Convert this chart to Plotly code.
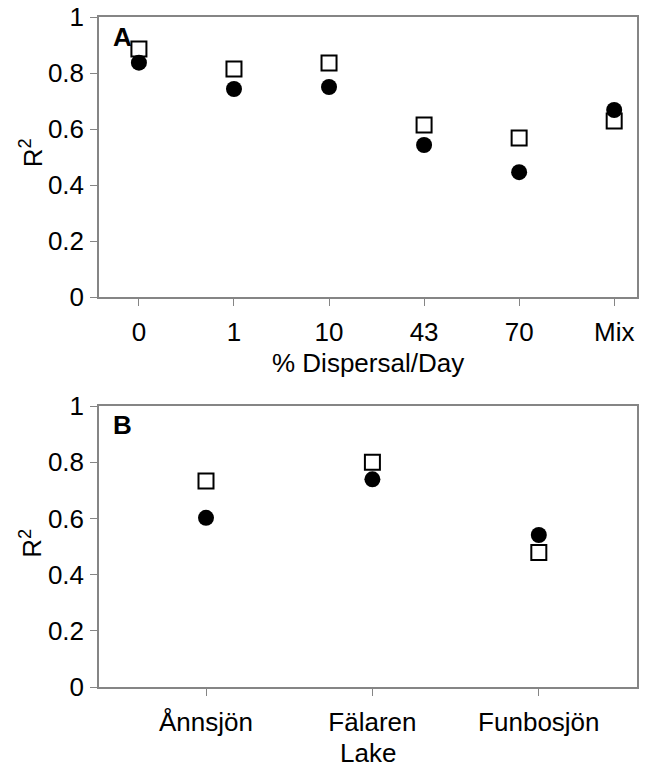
import plotly.graph_objects as go
from plotly.subplots import make_subplots

dispersal = ["0", "1", "10", "43", "70", "Mix"]
a_open = [0.886, 0.814, 0.836, 0.614, 0.568, 0.629]
a_filled = [0.837, 0.743, 0.750, 0.543, 0.446, 0.668]

lakes = ["Ånnsjön", "Fälaren", "Funbosjön"]
b_open = [0.733, 0.800, 0.479]
b_filled = [0.602, 0.739, 0.541]

yticks = [0, 0.2, 0.4, 0.6, 0.8, 1]
ytick_text = ["0", "0.2", "0.4", "0.6", "0.8", "1"]

FONT = "Liberation Sans, Arial, sans-serif"
FS = 26

fig = make_subplots(rows=2, cols=1, vertical_spacing=0.1)

def add_panel(cats, filled, opened, row):
    fig.add_trace(go.Scatter(x=cats, y=opened, mode="markers",
                             marker=dict(symbol="square-open", size=15, color="black",
                                         line=dict(width=2)),
                             showlegend=False), row=row, col=1)
    fig.add_trace(go.Scatter(x=cats, y=filled, mode="markers",
                             marker=dict(symbol="circle", size=16, color="black",
                                         line=dict(width=0)),
                             showlegend=False), row=row, col=1)

add_panel(dispersal, a_filled, a_open, 1)
add_panel(lakes, b_filled, b_open, 2)

axis_common = dict(showgrid=False, zeroline=False, showline=True, mirror=True,
                   linecolor="#858585", linewidth=1.5, ticks="outside",
                   tickcolor="#858585", tickwidth=1.2, automargin=False,
                   tickfont=dict(family=FONT, size=FS, color="black"))

fig.update_xaxes(**axis_common, type="category", ticklen=7, ticklabelstandoff=4)
fig.update_yaxes(**axis_common, ticklen=7, range=[0, 1], tickvals=yticks,
                 ticktext=ytick_text, ticklabelstandoff=1)

fig.update_layout(
    template="none",
    xaxis=dict(domain=[0, 1], range=[-0.42, 5.24]),
    yaxis=dict(domain=[0.582, 1.0]),
    xaxis2=dict(domain=[0, 1], range=[-0.643, 2.59]),
    yaxis2=dict(domain=[0.0, 0.4194]),
    width=658, height=771,
    margin=dict(l=99, r=21, t=17, b=84),
    plot_bgcolor="white", paper_bgcolor="white",
    font=dict(family=FONT, color="black"),
)

def txt(text, x, y, angle=0):
    fig.add_annotation(text=text, x=x, y=y, xref="paper", yref="paper",
                       xanchor="center", yanchor="middle", showarrow=False,
                       textangle=angle,
                       font=dict(family=FONT, size=FS, color="black"))

# axis titles
txt("% Dispersal/Day", 0.5, 0.4836)
txt("Lake", 0.5, -0.0985)
txt("R<sup>2</sup>", -0.126, 0.797, -90)
txt("R<sup>2</sup>", -0.126, 0.214, -90)

# panel labels
for lab, y in (("<b>A</b>", 0.970), ("<b>B</b>", 0.391)):
    fig.add_annotation(text=lab, x=0.022, y=y, xref="paper", yref="paper",
                       xanchor="left", yanchor="middle", showarrow=False,
                       font=dict(family=FONT, size=FS, color="black"))

fig.write_html("out.html", config={"displayModeBar": False},
               post_script="document.body.style.margin='0';")
